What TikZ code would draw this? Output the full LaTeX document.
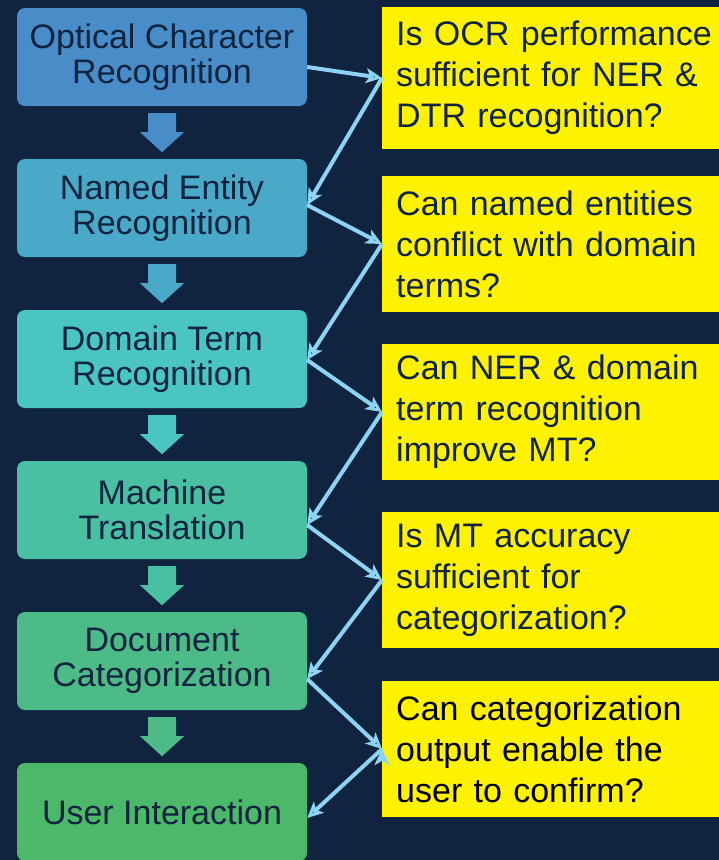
\documentclass[tikz,border=0pt]{standalone}
\usepackage{fontspec}
\setmainfont{Liberation Sans}
\usepackage{tikz}
\usepackage{xcolor}
\usetikzlibrary{arrows.meta}

\definecolor{navy}{HTML}{10233F}
\definecolor{ocrc}{HTML}{488CC8}
\definecolor{nerc}{HTML}{4AA8C8}
\definecolor{dtrc}{HTML}{4BC4C4}
\definecolor{mtc}{HTML}{4AC0A2}
\definecolor{dcc}{HTML}{4CBB88}
\definecolor{uic}{HTML}{4CB86A}
\definecolor{linkc}{HTML}{8CD3F5}

\tikzset{
    stage/.style={rounded corners=8pt, minimum width=290pt, minimum height=98pt, inner sep=0pt,
        align=center, text=navy, font=\fontsize{34}{35}\selectfont},
    question/.style={fill=yellow, anchor=west, minimum height=136pt, text width=340pt,
        inner xsep=14pt, inner ysep=0pt, align=left, text=navy, font=\fontsize{34}{41}\selectfont},
    link/.style={draw=linkc, line width=4pt, -{Stealth[length=16pt, width=15pt, inset=4pt]}},
    flow/.pic={\fill (-14,0) -- (14,0) -- (14,19) -- (22,19) -- (0,39) -- (-22,19) -- (-14,19) -- cycle;}
}

\begin{document}
\begin{tikzpicture}[x=1pt, y=-1pt]
                \useasboundingbox (0, 0) rectangle (719, 860);
                \clip (0, 0) rectangle (719, 860);
                \fill[navy] (0, 0) rectangle (719, 860);

                \node[stage, fill=ocrc] (ocr) at (162, 57) {Optical Character\\Recognition};
                \node[stage, fill=nerc] (ner) at (162, 208) {Named Entity\\Recognition};
                \node[stage, fill=dtrc] (dtr) at (162, 359) {Domain Term\\Recognition};
                \node[stage, fill=mtc] (mt) at (162, 510) {Machine\\Translation};
                \node[stage, fill=dcc] (dc) at (162, 661) {Document\\Categorization};
                \node[stage, fill=uic] (ui) at (162, 812) {User Interaction};

                \pic[ocrc] at ([yshift=-7pt]ocr.south) {flow};
                \pic[nerc] at ([yshift=-7pt]ner.south) {flow};
                \pic[dtrc] at ([yshift=-7pt]dtr.south) {flow};
                \pic[mtc] at ([yshift=-7pt]mt.south) {flow};
                \pic[dcc] at ([yshift=-7pt]dc.south) {flow};

                \node[question, minimum height=142pt] (qocr) at (382, 78) {Is OCR performance\\sufficient for NER \&\\DTR recognition?};
                \node[question] (qner) at (382, 244) {Can named entities\\conflict with domain\\terms?};
                \node[question] (qdtr) at (382, 412) {Can NER \& domain\\term recognition\\improve MT?};
                \node[question] (qmt) at (382, 580) {Is MT accuracy\\sufficient for\\categorization?};
                \node[question, text=black] (qdc) at (382, 749) {Can categorization\\output enable the\\user to confirm?};

                \draw[link]
                ([yshift=-10pt]ocr.east) edge (qocr.west)
                (qocr.west) edge ([yshift=3pt]ner.east)
                ([yshift=3pt]ner.east) edge (qner.west)
                (qner.west) edge ([yshift=-1pt]dtr.east)
                ([yshift=-1pt]dtr.east) edge (qdtr.west)
                (qdtr.west) edge ([yshift=-15pt]mt.east)
                ([yshift=-15pt]mt.east) edge (qmt.west)
                (qmt.west) edge ([yshift=-18pt]dc.east)
                ([yshift=-18pt]dc.east) edge (qdc.west)
                (qdc.west) edge ([yshift=-6pt]ui.east);
            \end{tikzpicture}
\end{document}
